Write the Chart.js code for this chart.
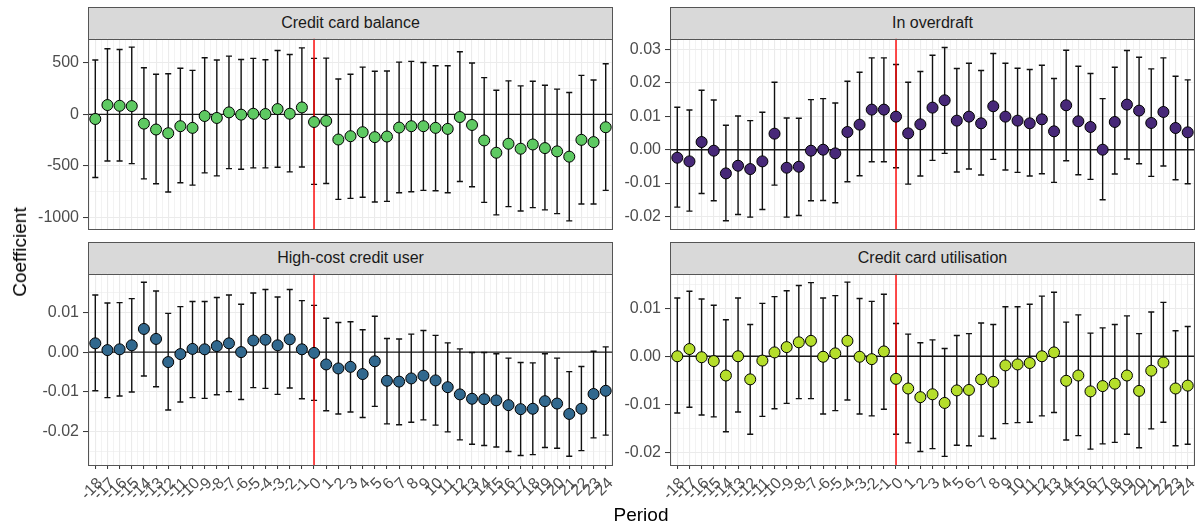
<!DOCTYPE html>
<html><head><meta charset="utf-8">
<script src="https://cdn.jsdelivr.net/npm/chart.js@4.4.1/dist/chart.umd.min.js"></script>
<style>
body{margin:0;width:1203px;height:531px;background:#fff;position:relative;overflow:hidden;font-family:"Liberation Sans",Arial,sans-serif;}
.cv{position:absolute;}
.strip{position:absolute;box-sizing:border-box;background:#d9d9d9;border:1px solid #555;color:#1a1a1a;font-size:16px;text-align:center;line-height:30px;}
.title{position:absolute;color:#000;font-size:19px;white-space:nowrap;}
</style></head><body>

<div class="strip" style="left:88px;top:7px;width:525px;height:33px;">Credit card balance</div>
<div class="strip" style="left:670px;top:7px;width:525px;height:33px;">In overdraft</div>
<div class="strip" style="left:88px;top:242px;width:525px;height:33px;">High-cost credit user</div>
<div class="strip" style="left:670px;top:242px;width:525px;height:33px;">Credit card utilisation</div>

<canvas id="c1" class="cv" width="620" height="204" style="left:0;top:32px;"></canvas>
<canvas id="c2" class="cv" width="603" height="204" style="left:600px;top:32px;"></canvas>
<canvas id="c3" class="cv" width="620" height="264" style="left:0;top:267px;"></canvas>
<canvas id="c4" class="cv" width="603" height="264" style="left:600px;top:267px;"></canvas>

<div class="title" style="left:20px;top:252px;transform:translate(-50%,-50%) rotate(-90deg);">Coefficient</div>
<div class="title" style="left:641px;top:515px;transform:translate(-50%,-50%);">Period</div>

<script>
const periods = [-18,-17,-16,-15,-14,-13,-12,-11,-10,-9,-8,-7,-6,-5,-4,-3,-2,-1,0,1,2,3,4,5,6,7,8,9,10,11,12,13,14,15,16,17,18,19,20,21,22,23,24];

const balanceEst  = [-45,90,83,80,-90,-147,-183,-115,-131,-16,-35,19,-3,6,3,51,6,67,-74,-64,-244,-212,-173,-221,-215,-128,-115,-115,-131,-141,-26,-103,-253,-372,-285,-333,-292,-327,-359,-410,-247,-269,-125];
const balanceLow  = [-612,-452,-452,-478,-625,-673,-753,-663,-686,-567,-596,-526,-532,-519,-519,-513,-558,-510,-679,-670,-824,-814,-804,-849,-843,-760,-750,-737,-740,-760,-651,-702,-853,-974,-894,-936,-904,-926,-962,-1032,-869,-869,-737];
const balanceHigh = [526,635,628,651,452,388,394,446,426,548,526,564,532,542,529,619,580,644,542,545,343,388,458,417,420,506,513,503,471,471,606,497,356,234,324,276,321,282,244,212,378,333,490];

const overdraftEst  = [-0.0024,-0.0035,0.0023,-0.0003,-0.0071,-0.0048,-0.0058,-0.0035,0.0048,-0.0054,-0.0051,-0.0003,0.0000,-0.0011,0.0053,0.0075,0.0120,0.0120,0.0099,0.0049,0.0076,0.0126,0.0148,0.0087,0.0099,0.0079,0.0130,0.0099,0.0087,0.0079,0.0091,0.0055,0.0133,0.0085,0.0068,0.0000,0.0083,0.0135,0.0117,0.0080,0.0113,0.0065,0.0052];
const overdraftLow  = [-0.0172,-0.0184,-0.0131,-0.0153,-0.0213,-0.0194,-0.0202,-0.0179,-0.0106,-0.0202,-0.0197,-0.0153,-0.0152,-0.0159,-0.0096,-0.0078,-0.0036,-0.0036,-0.0054,-0.0103,-0.0079,-0.0032,-0.0011,-0.0067,-0.0058,-0.0076,-0.0029,-0.0061,-0.0068,-0.0079,-0.0072,-0.0098,-0.0033,-0.0075,-0.0089,-0.0150,-0.0073,-0.0028,-0.0042,-0.0080,-0.0049,-0.0090,-0.0102];
const overdraftHigh = [0.0127,0.0119,0.0178,0.0149,0.0073,0.0101,0.0087,0.0112,0.0202,0.0095,0.0094,0.0150,0.0153,0.0140,0.0205,0.0232,0.0275,0.0275,0.0255,0.0202,0.0234,0.0283,0.0306,0.0243,0.0259,0.0237,0.0288,0.0259,0.0244,0.0240,0.0253,0.0213,0.0298,0.0250,0.0228,0.0153,0.0247,0.0297,0.0277,0.0242,0.0275,0.0220,0.0209];

const highCostEst  = [0.0022,0.0005,0.0007,0.0017,0.0058,0.0033,-0.0025,-0.0005,0.0008,0.0007,0.0015,0.0022,0.0000,0.0029,0.0031,0.0017,0.0032,0.0007,-0.0002,-0.0031,-0.0041,-0.0037,-0.0055,-0.0023,-0.0072,-0.0074,-0.0066,-0.0059,-0.0071,-0.0088,-0.0106,-0.0117,-0.0118,-0.0121,-0.0133,-0.0143,-0.0142,-0.0123,-0.0129,-0.0155,-0.0142,-0.0105,-0.0097];
const highCostLow  = [-0.0097,-0.0114,-0.0110,-0.0100,-0.0060,-0.0087,-0.0145,-0.0125,-0.0114,-0.0116,-0.0107,-0.0099,-0.0119,-0.0089,-0.0091,-0.0106,-0.0090,-0.0117,-0.0121,-0.0147,-0.0155,-0.0150,-0.0164,-0.0136,-0.0180,-0.0182,-0.0176,-0.0170,-0.0183,-0.0200,-0.0220,-0.0231,-0.0234,-0.0238,-0.0249,-0.0259,-0.0257,-0.0239,-0.0241,-0.0261,-0.0247,-0.0215,-0.0208];
const highCostHigh = [0.0143,0.0123,0.0124,0.0134,0.0175,0.0153,0.0097,0.0114,0.0127,0.0127,0.0137,0.0143,0.0120,0.0148,0.0157,0.0138,0.0157,0.0129,0.0117,0.0085,0.0074,0.0076,0.0056,0.0090,0.0034,0.0033,0.0045,0.0054,0.0042,0.0023,0.0008,-0.0001,-0.0001,-0.0004,-0.0015,-0.0026,-0.0027,-0.0004,-0.0015,-0.0049,-0.0036,0.0002,0.0013];

const utilEst  = [0.0000,0.0015,-0.0002,-0.0010,-0.0040,0.0000,-0.0048,-0.0009,0.0008,0.0019,0.0029,0.0032,-0.0001,0.0006,0.0032,-0.0001,-0.0006,0.0010,-0.0047,-0.0067,-0.0085,-0.0079,-0.0097,-0.0071,-0.0070,-0.0048,-0.0053,-0.0019,-0.0017,-0.0014,0.0000,0.0008,-0.0051,-0.0040,-0.0073,-0.0062,-0.0057,-0.0040,-0.0072,-0.0030,-0.0013,-0.0067,-0.0061];
const utilLow  = [-0.0118,-0.0106,-0.0122,-0.0126,-0.0157,-0.0116,-0.0162,-0.0125,-0.0109,-0.0098,-0.0088,-0.0088,-0.0120,-0.0113,-0.0091,-0.0120,-0.0124,-0.0110,-0.0162,-0.0180,-0.0198,-0.0192,-0.0208,-0.0185,-0.0186,-0.0166,-0.0171,-0.0140,-0.0138,-0.0137,-0.0124,-0.0117,-0.0174,-0.0165,-0.0193,-0.0182,-0.0179,-0.0162,-0.0190,-0.0151,-0.0137,-0.0186,-0.0183];
const utilHigh = [0.0121,0.0135,0.0119,0.0106,0.0076,0.0121,0.0066,0.0110,0.0124,0.0136,0.0147,0.0153,0.0121,0.0126,0.0154,0.0120,0.0114,0.0129,0.0068,0.0046,0.0028,0.0034,0.0016,0.0043,0.0047,0.0069,0.0066,0.0103,0.0103,0.0108,0.0125,0.0133,0.0071,0.0086,0.0048,0.0059,0.0066,0.0084,0.0047,0.0092,0.0112,0.0053,0.0062];

const balanceTicksMajor = [-1000,-500,0,500];
const balanceTicksMinor = [-750,-250,250];
const overdraftTicksMajor = [-0.02,-0.01,0,0.01,0.02,0.03];
const overdraftTicksMinor = [-0.015,-0.005,0.005,0.015,0.025];
const highCostTicksMajor = [-0.02,-0.01,0,0.01];
const highCostTicksMinor = [-0.025,-0.015,-0.005,0.005,0.015];
const utilTicksMajor = [-0.02,-0.01,0,0.01];
const utilTicksMinor = [-0.015,-0.005,0.005,0.015];
const xMinorBreaks = periods.map(p => p + 0.5).concat([periods[0] - 0.5]);

Chart.defaults.font.family = "'Liberation Sans', Arial, sans-serif";
Chart.defaults.animation = false;

const decor = {
  id: 'decor',
  beforeDatasetsDraw(chart, args, opts) {
    const {ctx, chartArea: a, scales: {x, y}} = chart;
    ctx.save();
    ctx.beginPath(); ctx.rect(a.left, a.top, a.right - a.left, a.bottom - a.top); ctx.clip();
    const y0 = y.getPixelForValue(0);
    ctx.strokeStyle = '#1a1a1a'; ctx.lineWidth = 1.4;
    ctx.beginPath(); ctx.moveTo(a.left, y0); ctx.lineTo(a.right, y0); ctx.stroke();
    ctx.strokeStyle = '#111'; ctx.lineWidth = 1.4;
    opts.low.forEach((lo, i) => {
      const hi = opts.high[i];
      const px = x.getPixelForValue(periods[i]);
      const pl = x.getPixelForValue(periods[i] - 0.25), pr = x.getPixelForValue(periods[i] + 0.25);
      const yl = y.getPixelForValue(lo), yh = y.getPixelForValue(hi);
      ctx.beginPath();
      ctx.moveTo(px, yl); ctx.lineTo(px, yh);
      ctx.moveTo(pl, yl); ctx.lineTo(pr, yl);
      ctx.moveTo(pl, yh); ctx.lineTo(pr, yh);
      ctx.stroke();
    });
    const x0 = x.getPixelForValue(0);
    ctx.strokeStyle = '#ff0000'; ctx.lineWidth = 1.4;
    ctx.beginPath(); ctx.moveTo(x0, a.top); ctx.lineTo(x0, a.bottom); ctx.stroke();
    ctx.restore();
  },
  afterDraw(chart) {
    const {ctx, chartArea: a} = chart;
    ctx.save();
    ctx.strokeStyle = '#555'; ctx.lineWidth = 1;
    ctx.strokeRect(Math.round(a.left) + 0.5, Math.round(a.top) + 0.5, Math.round(a.right - a.left) - 1, Math.round(a.bottom - a.top) - 1);
    ctx.restore();
  }
};

function fmt2(v) { return (Math.abs(v) < 1e-12 ? 0 : v).toFixed(2); }
function fmt0(v) { return String(Math.round(v)); }

function makePanel(id, est, low, high, color, yMin, yMax, majors, minors, fmt, showX, yWidth, padRight) {
  const yTicks = majors.map(v => ({value: v, m: 1})).concat(minors.map(v => ({value: v, m: 0}))).sort((a, b) => a.value - b.value);
  const xTicks = periods.map(v => ({value: v, m: 1})).concat(xMinorBreaks.map(v => ({value: v, m: 0}))).sort((a, b) => a.value - b.value);
  return new Chart(document.getElementById(id), {
    type: 'scatter',
    data: { datasets: [{
      data: periods.map((p, i) => ({x: p, y: est[i]})),
      backgroundColor: color, borderColor: '#000', borderWidth: 1,
      pointRadius: 5.5, pointHoverRadius: 5.5
    }]},
    options: {
      responsive: false, animation: false, events: [],
      layout: { padding: {top: 4, right: padRight, bottom: showX ? 0 : 4, left: 0} },
      plugins: { legend: {display: false}, tooltip: {enabled: false}, decor: {low, high} },
      scales: {
        x: {
          type: 'linear', min: -18.6, max: 24.6,
          afterBuildTicks: s => { s.ticks = xTicks.map(t => ({...t})); },
          afterFit: s => { s.height = showX ? 66 : 0; s.paddingLeft = 0; s.paddingRight = 0; },
          border: {display: false},
          grid: {
            color: '#ebebeb',
            lineWidth: c => (c.tick && c.tick.m) ? 1.1 : 0.6,
            drawTicks: showX, tickLength: 4, tickWidth: 1,
            tickColor: c => (c.tick && c.tick.m) ? '#333' : 'rgba(0,0,0,0)'
          },
          ticks: {
            display: showX, autoSkip: false, minRotation: 45, maxRotation: 45,
            color: '#4d4d4d', font: {size: 16}, padding: 5, labelOffset: 5,
            callback: (v, i, t) => t[i].m ? String(v) : ''
          }
        },
        y: {
          min: yMin, max: yMax,
          afterBuildTicks: s => { s.ticks = yTicks.map(t => ({...t})); },
          afterFit: s => { s.width = yWidth; s.paddingTop = 0; s.paddingBottom = 0; },
          border: {display: false},
          grid: {
            color: '#ebebeb',
            lineWidth: c => (c.tick && c.tick.m) ? 1.1 : 0.6,
            tickLength: 5, tickWidth: 1,
            tickColor: c => (c.tick && c.tick.m) ? '#333' : 'rgba(0,0,0,0)'
          },
          ticks: {
            color: '#4d4d4d', font: {size: 16}, padding: 4,
            callback: (v, i, t) => t[i].m ? fmt(v) : ''
          }
        }
      }
    },
    plugins: [decor]
  });
}

makePanel('c1', balanceEst, balanceLow, balanceHigh, '#5ec962', -1116, 735, balanceTicksMajor, balanceTicksMinor, fmt0, false, 88, 7);
makePanel('c2', overdraftEst, overdraftLow, overdraftHigh, '#472878', -0.0239, 0.0333, overdraftTicksMajor, overdraftTicksMinor, fmt2, false, 70, 8);
makePanel('c3', highCostEst, highCostLow, highCostHigh, '#31688e', -0.0283, 0.0197, highCostTicksMajor, highCostTicksMinor, fmt2, true, 88, 7);
makePanel('c4', utilEst, utilLow, utilHigh, '#b5de2b', -0.0226, 0.0172, utilTicksMajor, utilTicksMinor, fmt2, true, 70, 8);
</script>
</body></html>
